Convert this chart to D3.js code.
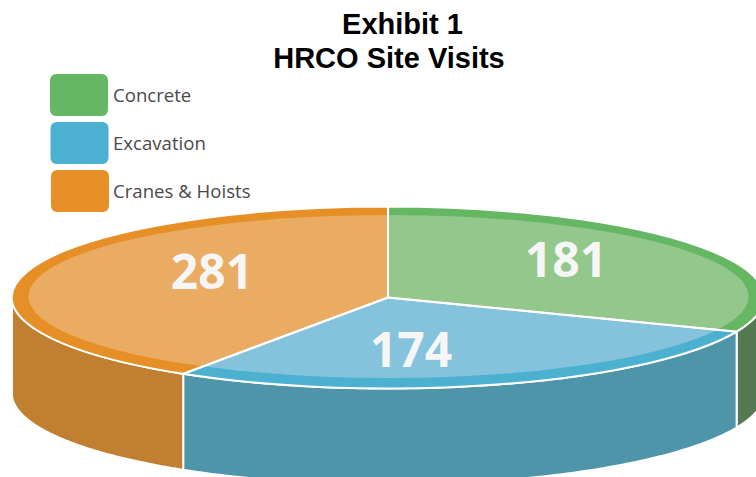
<!DOCTYPE html>
<html><head><meta charset="utf-8">
<script src="https://cdn.jsdelivr.net/npm/d3@7"></script>
<style>html,body{margin:0;padding:0;background:#fff;overflow:hidden}svg{display:block}</style>
</head><body><svg id="c" width="756" height="477"></svg>
<script>
const categories = ["Concrete", "Excavation", "Cranes & Hoists"];
const values = [181, 174, 281];
// Angular spans as drawn in the picture (degrees); the picture is not proportional to the values
const drawnSpans = [112, 101, 147];
const rimColors = ["#66b764", "#4cb0d1", "#e68f27"];
const topColors = ["#93c78b", "#85c2dc", "#eaab62"];
const wallColors = ["#557a52", "#4f95a9", "#c17f31"];
const titleLines = ["Exhibit 1", "HRCO Site Visits"];

const svg = d3.select("#c");
const cx = 388, cy = 297.5, rx = 376, ry = 91, depth = 96;
const rxIn = 360, ryIn = 81.5, cyIn = 296.5, cxIn = 388.5;

const px = a => cx + rx * Math.sin(a);
const py = a => cy - ry * Math.cos(a);

// Title
svg.selectAll("text.t").data(titleLines).join("text").attr("class", "t")
  .attr("x", (d, i) => [402.5, 389][i]).attr("y", (d, i) => [34, 68][i])
  .attr("text-anchor", "middle").attr("font-family", "Liberation Sans")
  .attr("font-weight", "bold").attr("font-size", 29).attr("fill", "#000").text(d => d);

// Legend
const ly = d3.scalePoint().domain(categories).range([74, 170]);
const lx = d3.scalePoint().domain(categories).range([50, 51]);
const leg = svg.selectAll("g.l").data(categories).join("g").attr("class", "l");
leg.append("rect").attr("x", d => lx(d)).attr("y", d => ly(d)).attr("width", 58).attr("height", 42).attr("rx", 6)
  .attr("fill", (d, i) => rimColors[i]);
leg.append("text").attr("x", 113).attr("y", d => ly(d) + 27.5)
  .attr("font-family", "Open Sans").attr("font-size", 18.6).attr("fill", "#4a4a4a").text(d => d);

// Pie layout
const pie = d3.pie().sort(null).value(d => d);
const slices = pie(drawnSpans).map((s, i) => ({ ...s, i }));

// Side walls (only the front half of the ellipse is visible)
const area = d3.area().x(a => px(a)).y0(a => py(a)).y1(a => py(a) + depth);
const walls = svg.append("g");
slices.forEach(s => {
  const a0 = Math.max(s.startAngle, Math.PI / 2), a1 = Math.min(s.endAngle, 3 * Math.PI / 2);
  const samples = d3.range(0, 121).map(k => a0 + (a1 - a0) * k / 120);
  walls.append("path").attr("d", area(samples)).attr("fill", wallColors[s.i])
    .attr("stroke", "#fff").attr("stroke-width", 2).attr("stroke-linejoin", "round");
});

// Top face: rim wedges + lighter inner ellipse clipped to each wedge
const unitArc = d3.arc().innerRadius(0).outerRadius(1);
const defs = svg.append("defs");
const face = svg.append("g");
const tf = `translate(${cx},${cy}) scale(${rx},${ry})`;
slices.forEach(s => {
  defs.append("clipPath").attr("id", "w" + s.i).append("path").attr("d", unitArc(s)).attr("transform", tf);
  face.append("path").attr("d", unitArc(s)).attr("transform", tf).attr("fill", rimColors[s.i]);
  face.append("g").attr("clip-path", `url(#w${s.i})`)
    .append("ellipse").attr("cx", cxIn).attr("cy", cyIn).attr("rx", rxIn).attr("ry", ryIn).attr("fill", topColors[s.i]);
});
slices.forEach(s => {
  face.append("path").attr("d", unitArc(s)).attr("transform", tf).attr("fill", "none")
    .attr("stroke", "#fff").attr("stroke-width", 2).attr("vector-effect", "non-scaling-stroke");
});

// Value labels
const labelX = [566, 411, 212], labelY = [277, 367, 289];
svg.selectAll("text.v").data(values).join("text").attr("class", "v")
  .attr("x", (d, i) => labelX[i]).attr("y", (d, i) => labelY[i]).attr("text-anchor", "middle")
  .attr("font-family", "Open Sans").attr("font-weight", "700").attr("font-size", 48)
  .attr("fill", "#f6f6f6").text(d => d);
</script></body></html>
